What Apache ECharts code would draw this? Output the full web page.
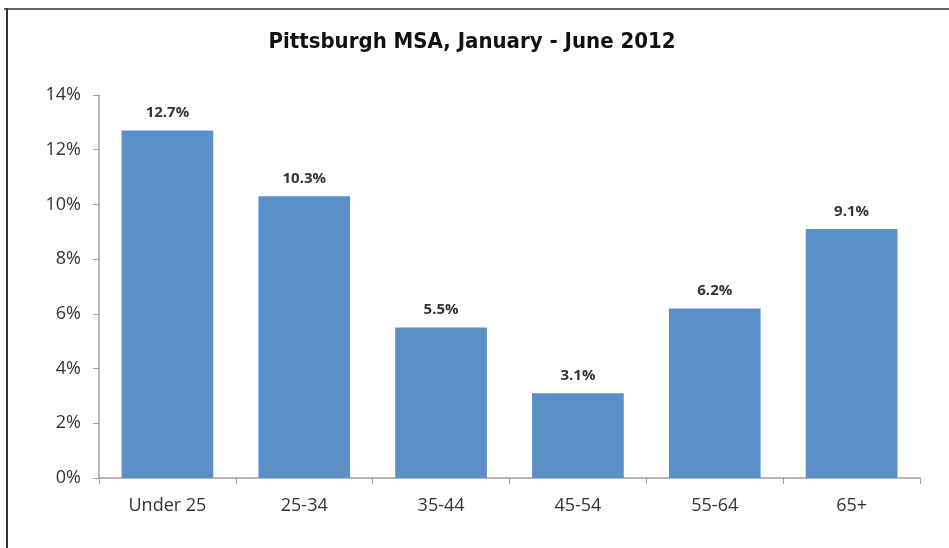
<!DOCTYPE html>
<html>
<head>
<meta charset="utf-8">
<script src="https://cdn.jsdelivr.net/npm/echarts@6/dist/echarts.min.js"></script>
<style>
  html, body { margin: 0; padding: 0; background: #fff; }
  #chart { width: 949px; height: 548px; }
</style>
</head>
<body>
<div id="chart"></div>
<script>
// age groups and share
var categories = ['Under 25', '25-34', '35-44', '45-54', '55-64', '65+']
var values = [12.7, 10.3, 5.5, 3.1, 6.2, 9.1]
var yTicks = [0, 2, 4, 6, 8, 10, 12, 14]

var axisColor = '#a59e98'
var labelFont = "'Open Sans', 'Noto Sans', sans-serif"

var chart = echarts.init(document.getElementById('chart'))
chart.setOption({
  animation: false,
  title: {
    text: 'Pittsburgh MSA, January - June 2012',
    left: 467,
    top: 26,
    textAlign: 'center',
    textStyle: {
      fontFamily: "'Liberation Sans Narrow', 'DejaVu Sans Condensed', 'Liberation Sans', sans-serif",
      fontWeight: 'bold',
      fontSize: 22,
      color: '#111'
    }
  },
  // frame lines (top + left only, like the scan)
  graphic: [
    { type: 'line', shape: { x1: 4, y1: 9, x2: 949, y2: 9 }, style: { stroke: '#666', lineWidth: 2 } },
    { type: 'line', shape: { x1: 7, y1: 8, x2: 7, y2: 548 }, style: { stroke: '#333', lineWidth: 2 } }
  ],
  grid: {
    left: 99,
    right: 29,
    top: 95,
    bottom: 70
  },
  xAxis: {
    type: 'category',
    data: categories,
    axisLine: { lineStyle: { color: axisColor, width: 1.5 } },
    axisTick: { show: true, length: 6, lineStyle: { color: axisColor } },
    axisLabel: {
      margin: 19,
      fontFamily: labelFont,
      fontSize: 18,
      color: '#333'
    }
  },
  yAxis: {
    type: 'value',
    min: 0,
    max: yTicks[yTicks.length - 1],
    interval: 2,
    splitLine: { show: false },
    axisLine: { show: true, lineStyle: { color: axisColor, width: 1.5 } },
    axisTick: { show: true, length: 6, lineStyle: { color: axisColor } },
    axisLabel: {
      margin: 18,
      fontFamily: labelFont,
      fontSize: 18,
      color: '#333',
      formatter: function(v) {
        return v + '%'
      }
    }
  },
  series: [{
    type: 'bar',
    data: values,
    barCategoryGap: '33%',
    itemStyle: { color: '#5b8fc8' },
    label: {
      show: true,
      position: 'top',
      distance: 10,
      fontFamily: labelFont,
      fontWeight: 'bold',
      fontSize: 15,
      color: '#333',
      formatter: function(p) {
        return p.value.toFixed(1) + '%'
      }
    }
  }]
})
</script>
</body>
</html>
